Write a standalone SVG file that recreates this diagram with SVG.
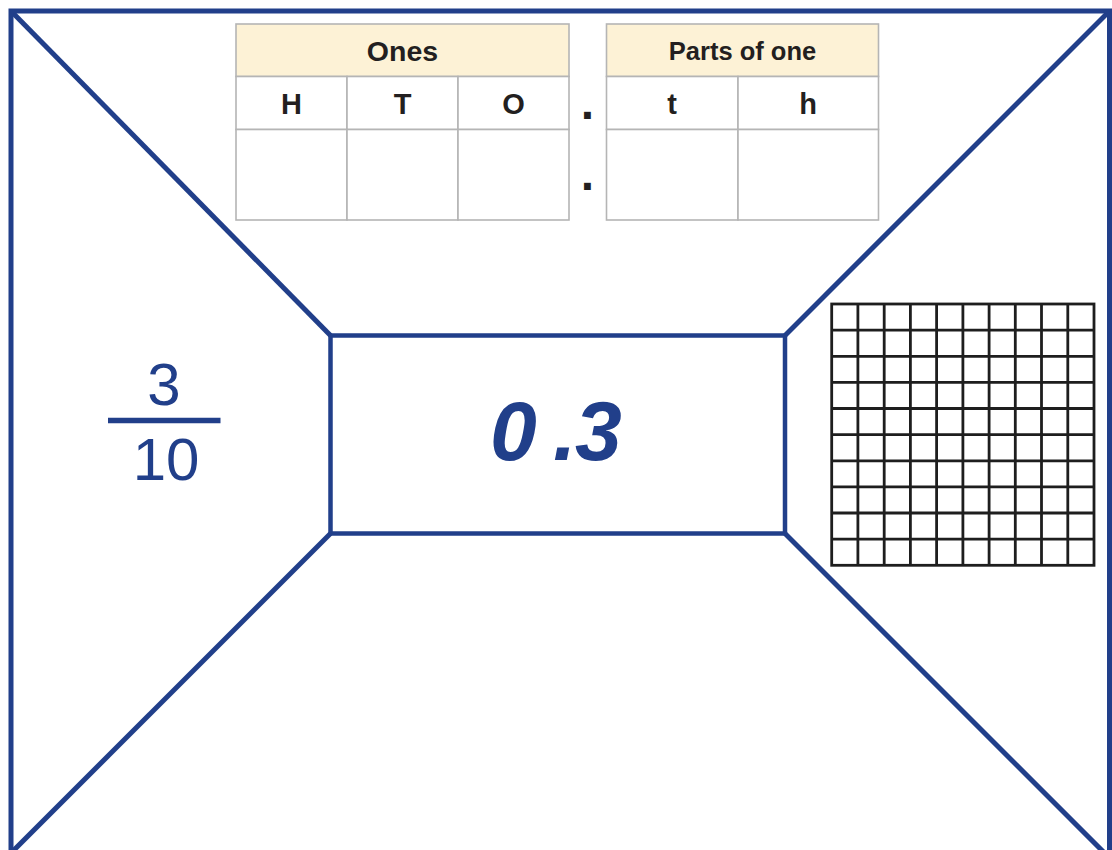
<svg xmlns="http://www.w3.org/2000/svg" width="1112" height="850" viewBox="0 0 1112 850">
<style>
.blue{stroke:#213f8a;fill:none;stroke-linecap:butt}
.cell{fill:#ffffff;stroke:#b5b5b5;stroke-width:1.6}
.head{fill:#fdf2d6;stroke:#b5b5b5;stroke-width:1.6}
.lbl{font-family:"Liberation Sans",Arial,sans-serif;font-weight:bold;fill:#231f20;text-anchor:middle}
.grid{stroke:#1e1e1e;stroke-width:2.8;fill:none}
.num{font-family:"Liberation Sans",Arial,sans-serif;fill:#213f8a;text-anchor:middle}
.dec{font-family:"Liberation Sans",Arial,sans-serif;fill:#213f8a;text-anchor:start;font-style:italic;font-weight:bold;font-size:84px}
</style>
<rect width="1112" height="850" fill="#ffffff"/>
<g id="connectors">
<line class="blue" stroke-width="5" x1="11" y1="11" x2="330.5" y2="335.5"/>
<line class="blue" stroke-width="5" x1="1109.5" y1="11" x2="785" y2="335.5"/>
<line class="blue" stroke-width="5" x1="330.5" y1="533.5" x2="11" y2="853"/>
<line class="blue" stroke-width="5" x1="785" y1="533.5" x2="1109.5" y2="858"/>
</g>
<g id="frame">
<rect class="blue" stroke-width="5" x="11" y="11" width="1098.5" height="860"/>
</g>
<g id="centre">
<rect class="blue" stroke-width="4.5" x="330.5" y="335.5" width="454.5" height="198"/>
<text class="dec" y="460"><tspan x="490">0</tspan><tspan x="553">.</tspan><tspan x="575">3</tspan></text>
</g>
<g id="fraction">
<text class="num" x="164" y="405" font-size="60">3</text>
<line class="blue" stroke-width="5.5" x1="108" y1="420.5" x2="220.5" y2="420.5"/>
<text class="num" x="166" y="480" font-size="60">10</text>
</g>
<g id="ones-table">
<rect class="head" x="236" y="24" width="333" height="52.5"/>
<text class="lbl" x="402.5" y="61" font-size="28.5">Ones</text>
<rect class="cell" x="236" y="76.5" width="111" height="53"/>
<rect class="cell" x="347" y="76.5" width="111" height="53"/>
<rect class="cell" x="458" y="76.5" width="111" height="53"/>
<rect class="cell" x="236" y="129.5" width="111" height="90.5"/>
<rect class="cell" x="347" y="129.5" width="111" height="90.5"/>
<rect class="cell" x="458" y="129.5" width="111" height="90.5"/>
<text class="lbl" x="291.5" y="114" font-size="29">H</text>
<text class="lbl" x="402.5" y="114" font-size="29">T</text>
<text class="lbl" x="513.5" y="114" font-size="29">O</text>
</g>
<g id="points">
<text class="lbl" x="587.5" y="119" font-size="48">.</text>
<text class="lbl" x="587.5" y="190" font-size="48">.</text>
</g>
<g id="parts-table">
<rect class="head" x="606.5" y="24" width="272" height="52.5"/>
<text class="lbl" x="742.5" y="60" font-size="25.5">Parts of one</text>
<rect class="cell" x="606.5" y="76.5" width="131.5" height="53"/>
<rect class="cell" x="738" y="76.5" width="140.5" height="53"/>
<rect class="cell" x="606.5" y="129.5" width="131.5" height="90.5"/>
<rect class="cell" x="738" y="129.5" width="140.5" height="90.5"/>
<text class="lbl" x="672" y="114" font-size="29">t</text>
<text class="lbl" x="808" y="114" font-size="29">h</text>
</g>
<g id="hundred-grid">
<rect class="grid" x="831.7" y="304" width="262.3" height="261.3"/>
<path class="grid" d="M857.9 304V565.3M884.2 304V565.3M910.4 304V565.3M936.6 304V565.3M962.9 304V565.3M989.1 304V565.3M1015.3 304V565.3M1041.5 304V565.3M1067.8 304V565.3M831.7 330.1H1094M831.7 356.3H1094M831.7 382.4H1094M831.7 408.5H1094M831.7 434.7H1094M831.7 460.8H1094M831.7 486.9H1094M831.7 513.0H1094M831.7 539.2H1094"/>
</g>
</svg>
